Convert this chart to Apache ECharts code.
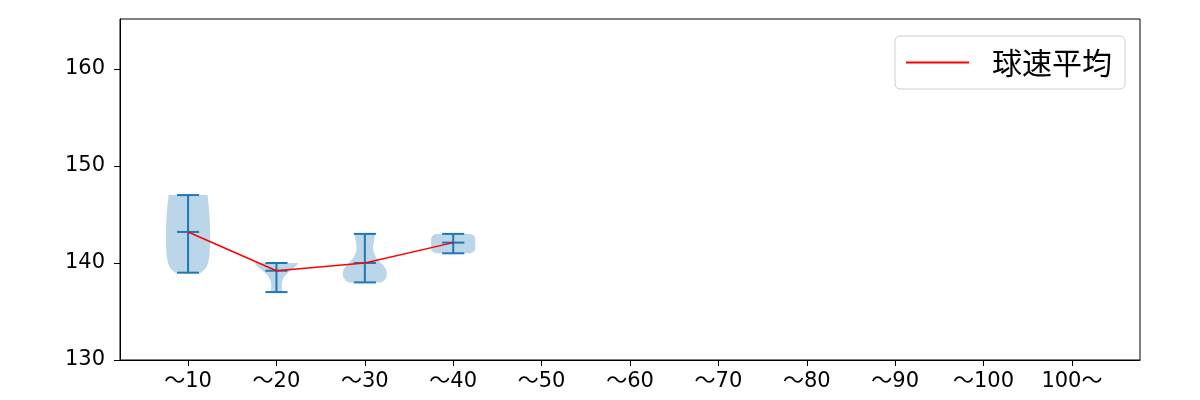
<!DOCTYPE html>
<html><head><meta charset="utf-8">
<script src="https://cdn.jsdelivr.net/npm/echarts@6/dist/echarts.min.js"></script>
<style>html,body{margin:0;padding:0;background:#fff}#c{width:1200px;height:400px}</style>
</head><body><div id="c"></div>
<script>
// categories and tick labels
const categories = ['〜10','〜20','〜30','〜40','〜50','〜60','〜70','〜80','〜90','〜100','100〜'];
const yTicks = [130, 140, 150, 160];
// per-category stats (positions 1..4 have data)
const positions = [1, 2, 3, 4];
const mins  = [139, 137, 138, 141];
const maxs  = [147, 140, 143, 143];
const means = [143.2, 139.2, 140.0, 142.1];
// violin density profiles (speed values and relative widths)
const profY1 = [139, 139.3, 139.7, 140.2, 141, 142, 143, 144, 145, 146, 147];
const profW1 = [0.58, 0.74, 0.86, 0.93, 0.98, 1.0, 1.0, 0.99, 0.97, 0.93, 0.88];
const profY2 = [137, 137.4, 137.8, 138.2, 138.6, 139.0, 139.4, 139.8, 140];
const profW2 = [0.28, 0.24, 0.24, 0.27, 0.36, 0.52, 0.74, 0.93, 0.98];
const profY3 = [138, 138.2, 138.5, 138.9, 139.3, 139.7, 140.1, 140.6, 141.1, 141.6, 142.1, 142.6, 143];
const profW3 = [0.72, 0.88, 0.97, 1.0, 0.97, 0.86, 0.68, 0.5, 0.4, 0.37, 0.4, 0.44, 0.46];
const profY4 = [141, 141.15, 141.35, 141.6, 142, 142.4, 142.65, 142.85, 143];
const profW4 = [0.8, 0.92, 0.98, 1.0, 1.0, 1.0, 0.98, 0.92, 0.8];

const profiles = [[profY1, profW1], [profY2, profW2], [profY3, profW3], [profY4, profW4]];
const HALF = 0.25, CAP = 0.125;
const blue = '#1f77b4';

const violinData = positions.map((p, i) => [p, mins[i], maxs[i], means[i], i]);

function renderViolin(params, api) {
  const p = api.value(0), lo = api.value(1), hi = api.value(2), mu = api.value(3), idx = api.value(4);
  const [ys, ws] = profiles[idx];
  const left = [], right = [];
  for (let k = 0; k < ys.length; k++) {
    left.push(api.coord([p - ws[k] * HALF, ys[k]]));
    right.push(api.coord([p + ws[k] * HALF, ys[k]]));
  }
  const poly = left.concat(right.reverse());
  const top = api.coord([p, hi]), bot = api.coord([p, lo]), mid = api.coord([p, mu]);
  const capL = api.coord([p - CAP, hi])[0], capR = api.coord([p + CAP, hi])[0];
  const ls = { stroke: blue, lineWidth: 2 };
  return { type: 'group', children: [
    { type: 'polygon', shape: { points: poly }, style: { fill: 'rgba(31,119,180,0.3)', stroke: null } },
    { type: 'line', shape: { x1: top[0], y1: top[1], x2: bot[0], y2: bot[1] }, style: ls },
    { type: 'line', shape: { x1: capL, y1: top[1], x2: capR, y2: top[1] }, style: ls },
    { type: 'line', shape: { x1: capL, y1: bot[1], x2: capR, y2: bot[1] }, style: ls },
    { type: 'line', shape: { x1: capL, y1: mid[1], x2: capR, y2: mid[1] }, style: ls }
  ]};
}

const font = '"DejaVu Sans", "Noto Sans CJK JP", sans-serif';
const cjk = '"Noto Sans CJK JP", sans-serif';
const chart = echarts.init(document.getElementById('c'), null, { renderer: 'canvas' });
chart.setOption({
  animation: false,
  backgroundColor: '#fff',
  grid: { left: 120, right: 60, top: 19, bottom: 40, show: true, borderColor: '#000', borderWidth: 1, backgroundColor: 'transparent' },
  legend: {
    right: 75, top: 36, padding: [11, 13, 11, 11],
    itemWidth: 63, itemHeight: 2, itemGap: 10,
    backgroundColor: '#fff', borderColor: '#cccccc', borderWidth: 1, borderRadius: 5,
    textStyle: { fontFamily: cjk, fontSize: 30, lineHeight: 31, color: '#000', padding: [0, 0, 0, 18] },
    data: [{ name: '球速平均', icon: 'rect', itemStyle: { color: 'red' } }]
  },
  xAxis: {
    type: 'value', min: 0.23, max: 11.77,
    splitLine: { show: false },
    axisLine: { lineStyle: { color: '#000', width: 1 } },
    axisTick: { show: true, length: 6, lineStyle: { color: '#000' }, customValues: [1,2,3,4,5,6,7,8,9,10,11] },
    axisLabel: { margin: 11, fontFamily: font, fontSize: 21, color: '#000',
      customValues: [1,2,3,4,5,6,7,8,9,10,11],
      formatter: v => categories[Math.round(v) - 1] }
  },
  yAxis: {
    type: 'value', min: 130, max: 165.15,
    splitLine: { show: false },
    axisLine: { show: true, lineStyle: { color: '#000', width: 1 } },
    axisTick: { show: true, length: 6, lineStyle: { color: '#000' }, customValues: yTicks },
    axisLabel: { margin: 15, fontFamily: font, fontSize: 21, color: '#000', customValues: yTicks }
  },
  series: [
    { type: 'custom', name: 'violin', renderItem: renderViolin, data: violinData, z: 2, silent: true },
    { type: 'line', name: '球速平均', data: positions.map((p, i) => [p, means[i]]),
      symbol: 'none', lineStyle: { color: 'red', width: 1.5 }, itemStyle: { color: 'red' }, z: 3 }
  ]
});
</script></body></html>
